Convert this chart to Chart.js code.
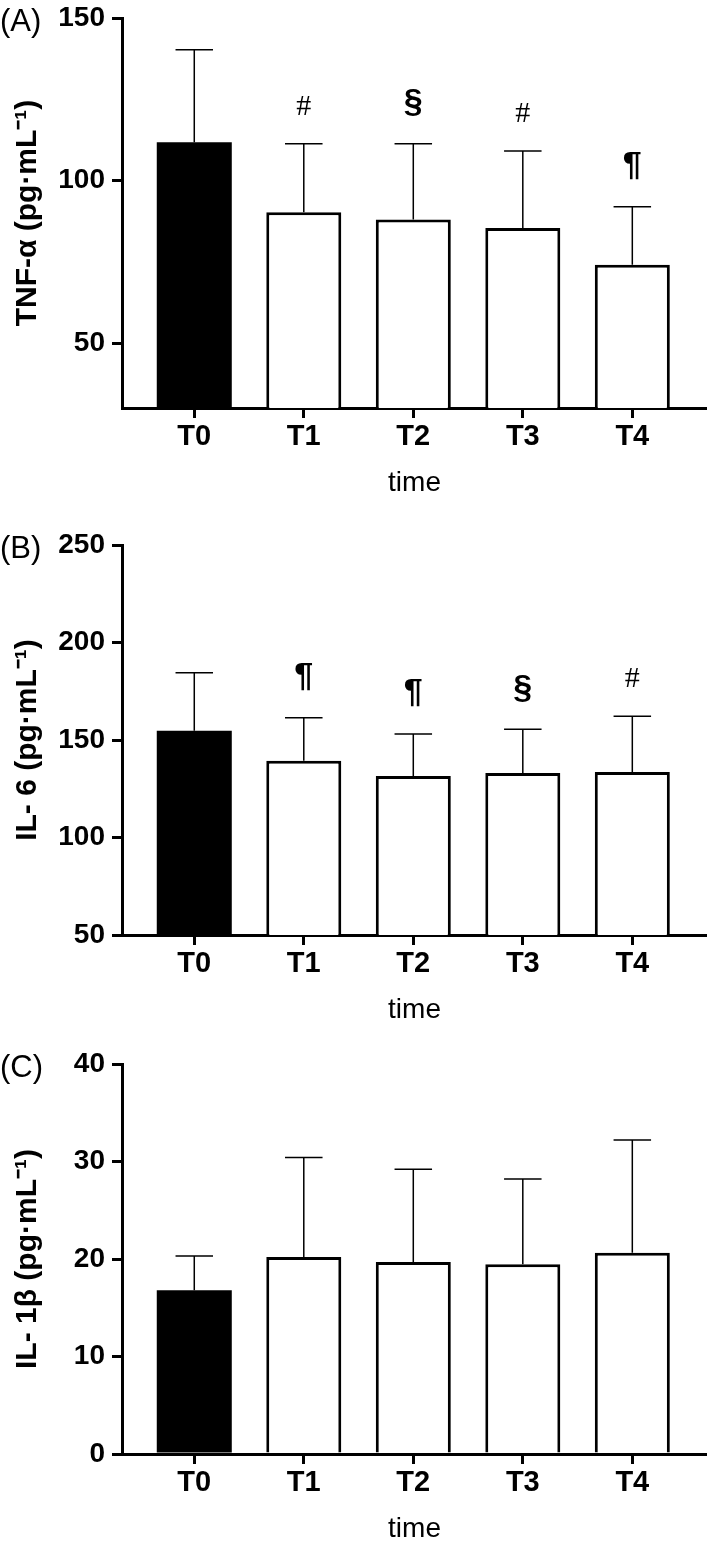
<!DOCTYPE html>
<html>
<head>
<meta charset="utf-8">
<script src="https://cdn.jsdelivr.net/npm/chart.js@4.4.0/dist/chart.umd.min.js"></script>
<style>
  body { margin: 0; background: #fff; width: 707px; height: 1546px; position: relative; overflow: hidden; }
  canvas { position: absolute; left: 0; }
</style>
</head>
<body>
<canvas id="chartA" width="707" height="500" style="top:0px"></canvas>
<canvas id="chartB" width="707" height="500" style="top:527px"></canvas>
<canvas id="chartC" width="707" height="500" style="top:1046px"></canvas>
<script>
const timeLabels = ['T0', 'T1', 'T2', 'T3', 'T4'];

// (A) TNF-alpha
const tnfMean = [111.8, 90.2, 88.0, 85.4, 74.1];
const tnfSd = [28.4, 21.1, 23.3, 23.7, 17.8];
const tnfMarks = ['', '#', '§', '#', '¶'];
const tnfTicks = [50, 100, 150];

// (B) IL-6
const il6Mean = [154.8, 139.4, 131.5, 133.1, 133.6];
const il6Sd = [29.7, 22.0, 21.6, 22.4, 28.6];
const il6Marks = ['', '¶', '¶', '§', '#'];
const il6Ticks = [50, 100, 150, 200, 250];

// (C) IL-1beta
const il1Mean = [16.8, 20.2, 19.7, 19.45, 20.65];
const il1Sd = [3.5, 10.2, 9.5, 8.75, 11.55];
const il1Marks = ['', '', '', '', ''];
const il1Ticks = [0, 10, 20, 30, 40];

const FONT = "'Liberation Sans', Arial, Helvetica, sans-serif";
Chart.defaults.font.family = FONT;
Chart.defaults.color = '#000';

const errorBars = {
  id: 'errorBars',
  afterDatasetsDraw(chart) {
    const ctx = chart.ctx;
    const yScale = chart.scales.y;
    const ds = chart.data.datasets[0];
    chart.getDatasetMeta(0).data.forEach((bar, i) => {
      const top = yScale.getPixelForValue(ds.data[i].y + ds.sd[i]);
      const half = bar.width / 4;
      ctx.save();
      ctx.strokeStyle = '#000';
      ctx.lineWidth = 1.5;
      ctx.beginPath();
      ctx.moveTo(bar.x, bar.y);
      ctx.lineTo(bar.x, top);
      ctx.moveTo(bar.x - half, top);
      ctx.lineTo(bar.x + half, top);
      ctx.stroke();

      const mark = ds.marks[i];
      if (mark) {
        ctx.fillStyle = '#000';
        ctx.textAlign = 'center';
        ctx.textBaseline = 'middle';
        if (mark === '#') {
          ctx.font = "30px 'Liberation Serif', serif";
          ctx.fillText(mark, bar.x, top - 37);
        } else {
          ctx.font = 'bold 34px ' + FONT;
          ctx.fillText(mark, bar.x, top - 41);
        }
      }
      ctx.restore();
    });
  }
};

const panelLabel = {
  id: 'panelLabel',
  afterDraw(chart, args, opts) {
    const ctx = chart.ctx;
    ctx.save();
    ctx.font = '31px ' + FONT;
    ctx.fillStyle = '#000';
    ctx.textAlign = 'left';
    ctx.textBaseline = 'middle';
    ctx.fillText(opts.text, 0, chart.chartArea.top + 4);
    ctx.restore();
  }
};

function makePanel(canvasId, label, yTitle, means, sds, marks, yMin, yMax, yTicks) {
  return new Chart(document.getElementById(canvasId), {
    type: 'bar',
    data: {
      datasets: [{
        data: means.map((v, i) => ({ x: i, y: v })),
        sd: sds,
        marks: marks,
        backgroundColor: means.map((v, i) => i === 0 ? '#000' : '#fff'),
        borderColor: '#000',
        borderWidth: means.map((v, i) => i === 0 ? 0 : 3),
        barPercentage: 0.685,
        categoryPercentage: 1
      }]
    },
    options: {
      responsive: false,
      animation: false,
      devicePixelRatio: 1,
      layout: { padding: { top: 18, left: 0, right: 0, bottom: 0 } },
      plugins: {
        legend: { display: false },
        tooltip: { enabled: false },
        panelLabel: { text: label }
      },
      scales: {
        x: {
          type: 'linear',
          min: -0.66,
          max: 4.682,
          offset: false,
          afterBuildTicks: (s) => { s.ticks = timeLabels.map((t, i) => ({ value: i })); },
          afterFit: (s) => { s.height = 92; s.paddingLeft = 0; s.paddingRight = 0; },
          ticks: {
            autoSkip: false,
            padding: 2,
            color: '#000',
            font: { size: 29, weight: 'bold' },
            callback: (v) => timeLabels[v]
          },
          grid: { display: true, offset: false, drawOnChartArea: false, drawTicks: true, tickLength: 10, lineWidth: 3, color: '#000' },
          border: { display: true, width: 3, color: '#000' },
          title: { display: true, text: 'time', color: '#000', font: { size: 28 }, padding: 0 }
        },
        y: {
          min: yMin,
          max: yMax,
          afterBuildTicks: (s) => { s.ticks = yTicks.map(v => ({ value: v })); },
          afterFit: (s) => { s.width = 122; s.paddingTop = 0; s.paddingBottom = 0; },
          ticks: {
            padding: 7,
            color: '#000',
            font: { size: 28, weight: 'bold' }
          },
          grid: { display: true, drawOnChartArea: false, drawTicks: true, tickLength: 10, lineWidth: 3, color: '#000' },
          border: { display: true, width: 3, color: '#000' },
          title: { display: true, text: yTitle, color: '#000', font: { size: 30, weight: 'bold' }, padding: { top: 10, bottom: 0 } }
        }
      }
    },
    plugins: [errorBars, panelLabel]
  });
}

makePanel('chartA', '(A)', 'TNF-α (pg·mL⁻¹)', tnfMean, tnfSd, tnfMarks, 30, 150, tnfTicks);
makePanel('chartB', '(B)', 'IL- 6 (pg·mL⁻¹)', il6Mean, il6Sd, il6Marks, 50, 250, il6Ticks);
makePanel('chartC', '(C)', 'IL- 1β (pg·mL⁻¹)', il1Mean, il1Sd, il1Marks, 0, 40, il1Ticks);
</script>
</body>
</html>
